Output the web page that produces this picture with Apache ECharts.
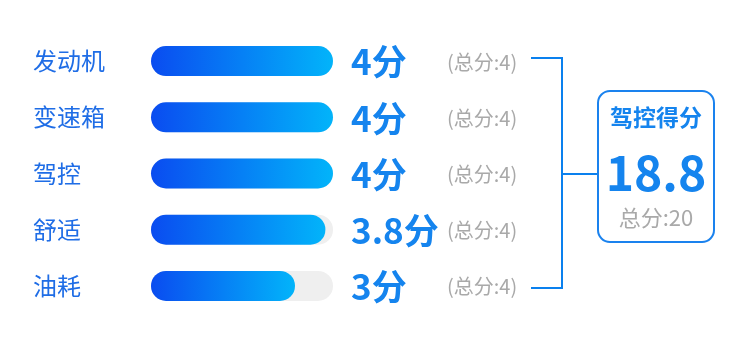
<!DOCTYPE html>
<html>
<head>
<meta charset="utf-8">
<script src="https://cdn.jsdelivr.net/npm/echarts@6/dist/echarts.min.js"></script>
<style>
html, body { margin: 0; padding: 0; background: #fff; }
#main { width: 750px; height: 339px; }
</style>
</head>
<body>
<div id="main"></div>
<script>
// 各项得分
var categories = ['发动机', '变速箱', '驾控', '舒适', '油耗'];
var scores = [4, 4, 4, 3.8, 3];
var fullScores = [4, 4, 4, 4, 4];
var summaryTitle = '驾控得分';

var FONT = '"Noto Sans CJK SC", "Noto Sans", sans-serif';
var BAR_H = 30;

var totalScore = 0, totalFull = 0;
for (var i = 0; i < scores.length; i++) {
	totalScore += scores[i];
	totalFull += fullScores[i];
}
totalScore = Math.round(totalScore * 10) / 10;

var data = [];
for (var j = 0; j < categories.length; j++) {
	data.push([scores[j], categories[j], fullScores[j]]);
}

function renderItem(params, api) {
	var cat = api.value(1);
	var v = api.value(0);
	var full = api.value(2);
	var p0 = api.coord([0, cat]);
	var pv = api.coord([v, cat]);
	var pf = api.coord([full, cat]);
	var r = BAR_H / 2;
	var y = p0[1];
	return {
		type: 'group',
		children: [{
			type: 'rect',
			shape: { x: p0[0] - r, y: y - r, width: pf[0] - p0[0] + BAR_H, height: BAR_H, r: r },
			style: { fill: '#efefef' }
		}, {
			type: 'rect',
			shape: { x: p0[0] - r, y: y - r, width: pv[0] - p0[0] + BAR_H, height: BAR_H, r: r },
			style: {
				fill: new echarts.graphic.LinearGradient(0, 0, 1, 0, [
					{ offset: 0, color: '#0a4cf0' },
					{ offset: 1, color: '#02b4fa' }
				])
			}
		}, {
			type: 'text',
			x: pf[0] + 33,
			y: y + 1,
			style: {
				text: v + '分',
				fill: '#1584ee',
				font: 'bold 35px ' + FONT,
				align: 'left',
				verticalAlign: 'middle'
			}
		}, {
			type: 'text',
			x: pf[0] + 129,
			y: y + 1,
			style: {
				text: '(总分:' + full + ')',
				fill: '#a9a9a9',
				font: '20px ' + FONT,
				align: 'left',
				verticalAlign: 'middle'
			}
		}]
	};
}

var myChart = echarts.init(document.getElementById('main'), null, { renderer: 'canvas' });
var option = {
	animation: false,
	grid: { left: 166, width: 152, top: 33, height: 281 },
	xAxis: {
		type: 'value',
		min: 0,
		max: 4,
		show: false
	},
	yAxis: {
		type: 'category',
		data: categories,
		inverse: true,
		axisLine: { show: false },
		axisTick: { show: false },
		axisLabel: {
			align: 'left',
			margin: 133,
			color: '#1f6de6',
			fontSize: 24,
			fontFamily: FONT
		}
	},
	series: [{
		type: 'custom',
		renderItem: renderItem,
		encode: { x: 0, y: 1 },
		data: data
	}],
	graphic: [{
		type: 'polyline',
		shape: { points: [[531, 58], [562, 58], [562, 288], [531, 288]] },
		style: { stroke: '#0a80ee', lineWidth: 2, fill: null }
	}, {
		type: 'line',
		shape: { x1: 562, y1: 174, x2: 598, y2: 174 },
		style: { stroke: '#0a80ee', lineWidth: 2 }
	}, {
		type: 'rect',
		shape: { x: 598, y: 91, width: 116, height: 151, r: 12 },
		style: { stroke: '#1a82ee', lineWidth: 2, fill: '#fff' }
	}, {
		type: 'text',
		x: 656, y: 117,
		style: {
			text: summaryTitle,
			fill: '#1584ee',
			font: 'bold 23px ' + FONT,
			align: 'center',
			verticalAlign: 'middle'
		}
	}, {
		type: 'text',
		x: 656, y: 173,
		style: {
			text: String(totalScore),
			fill: '#1584ee',
			font: 'bold 48px ' + FONT,
			align: 'center',
			verticalAlign: 'middle'
		}
	}, {
		type: 'text',
		x: 656, y: 218,
		style: {
			text: '总分:' + totalFull,
			fill: '#a9a9a9',
			font: '22px ' + FONT,
			align: 'center',
			verticalAlign: 'middle'
		}
	}]
};
myChart.setOption(option);
</script>
</body>
</html>
